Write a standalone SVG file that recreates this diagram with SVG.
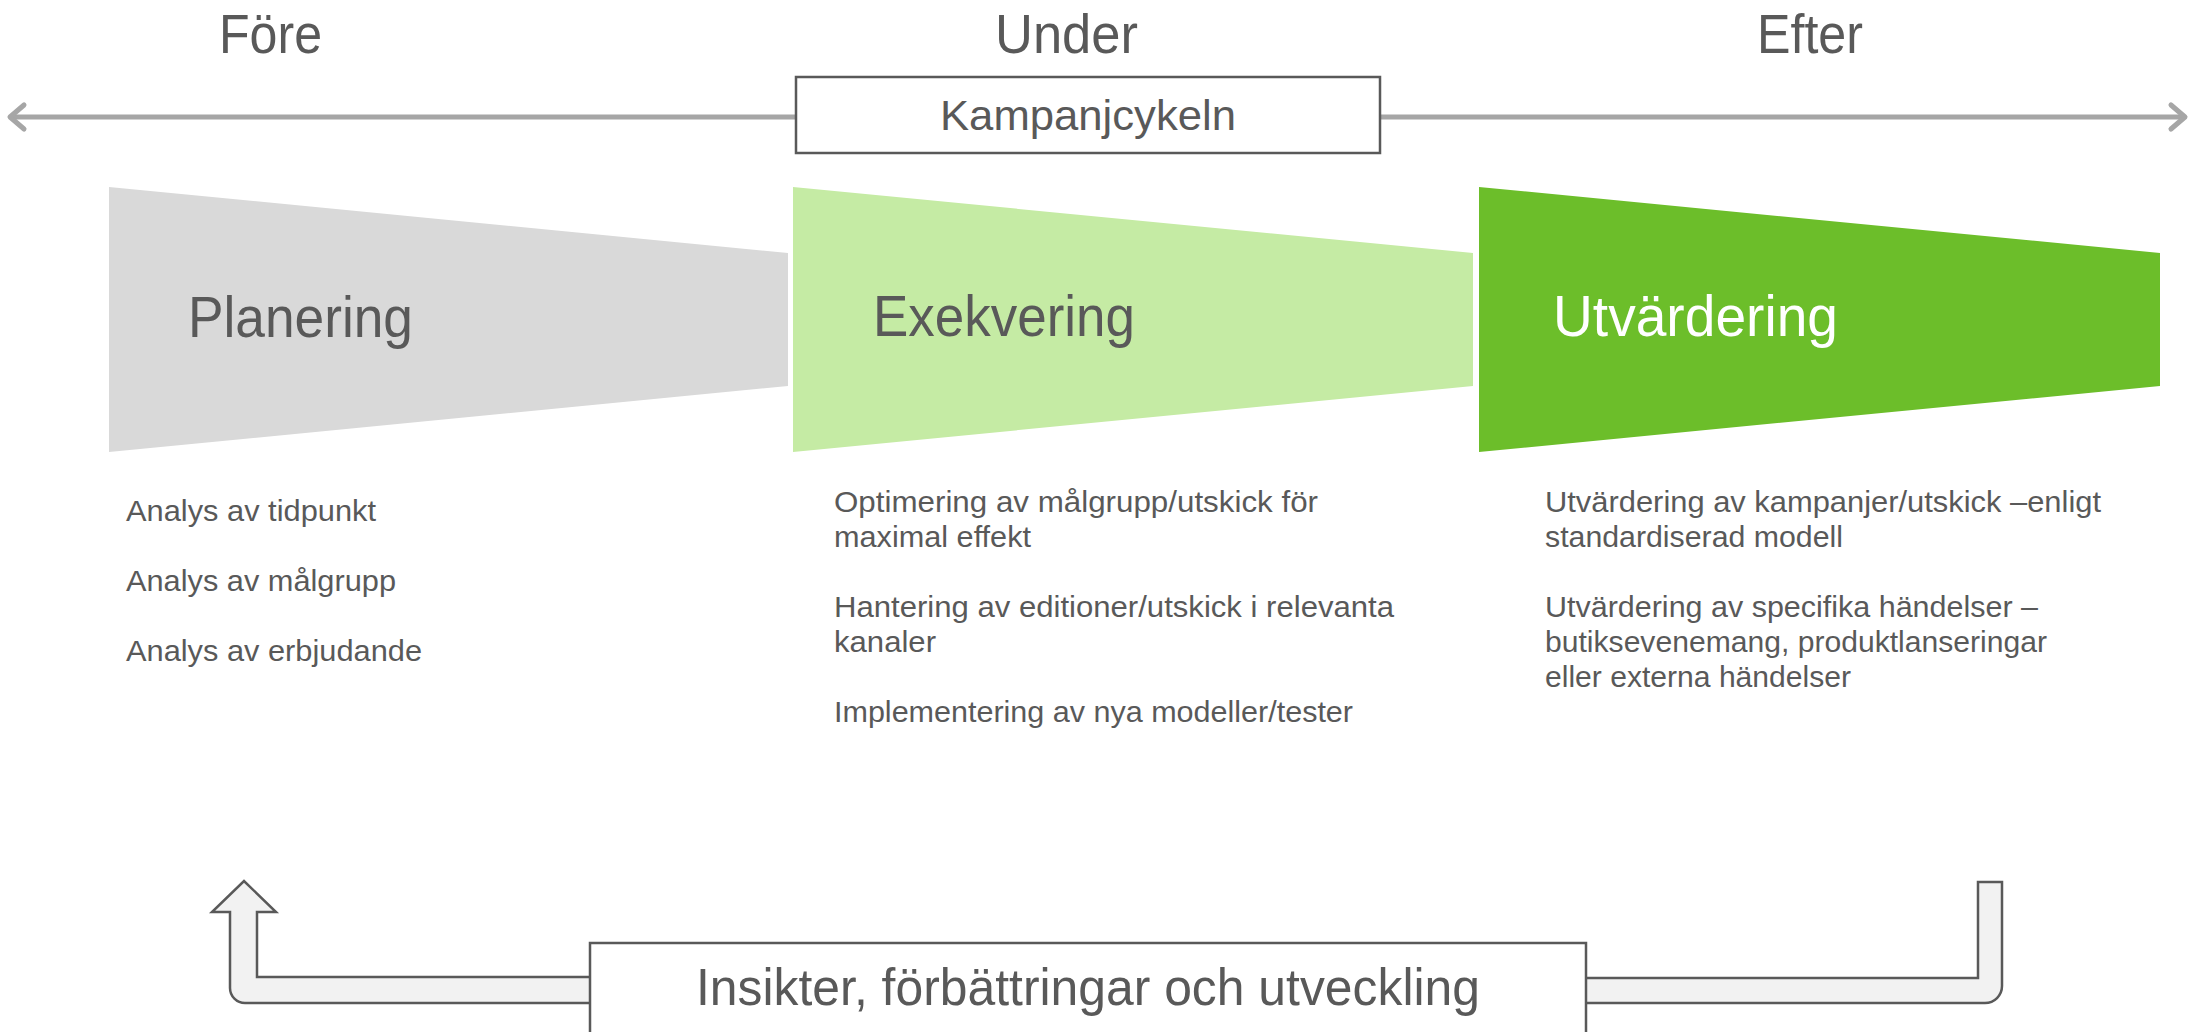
<svg xmlns="http://www.w3.org/2000/svg" width="2194" height="1032" viewBox="0 0 2194 1032">
<defs>
<style>
text{font-family:"Liberation Sans",Arial,sans-serif;fill:#595959;}
.hdr{font-size:56px;text-anchor:start;}
.ttl{font-size:57px;}
.bul{font-size:30px;}
.box{fill:#ffffff;stroke:#595959;stroke-width:2.5;}
.band{fill:#f2f2f2;stroke:#595959;stroke-width:2.5;stroke-linejoin:miter;}
.axis{stroke:#a6a6a6;stroke-width:5;fill:none;}
</style>
<marker id="chev" markerUnits="userSpaceOnUse" viewBox="-20 -16 24 32" refX="0" refY="0" markerWidth="24" markerHeight="32" orient="auto-start-reverse">
<path d="M-14,-12 L0,0 L-14,12" fill="none" stroke="#a6a6a6" stroke-width="5" stroke-linecap="round" stroke-linejoin="round"/>
</marker>
</defs>
<rect width="2194" height="1032" fill="#ffffff"/>

<g id="phase-labels">
<text class="hdr" x="219" y="53" textLength="103" lengthAdjust="spacingAndGlyphs">Före</text>
<text class="hdr" x="995" y="53" textLength="143" lengthAdjust="spacingAndGlyphs">Under</text>
<text class="hdr" x="1757" y="53" textLength="106" lengthAdjust="spacingAndGlyphs">Efter</text>
</g>

<g id="connectors">
<line class="axis" x1="796" y1="117" x2="10" y2="117" marker-end="url(#chev)"/>
<line class="axis" x1="1380" y1="117" x2="2185" y2="117" marker-end="url(#chev)"/>
<path class="band" d="M590,1003 L245,1003 A15,15 0 0 1 230,988 L230,912 L212,912 L244,881 L276,912 L257,912 L257,977 L590,977"/>
<path class="band" d="M1586,978 L1978,978 L1978,882 L2002,882 L2002,986 A17,17 0 0 1 1985,1003 L1586,1003"/>
</g>

<g id="kampanjcykeln">
<rect class="box" x="796" y="77" width="584" height="76"/>
<text x="940" y="130" font-size="42" textLength="296" lengthAdjust="spacingAndGlyphs">Kampanjcykeln</text>
</g>

<g id="planering">
<polygon points="109,187 788,253 788,386 109,452" fill="#d9d9d9"/>
<text class="ttl" x="188" y="337" textLength="225" lengthAdjust="spacingAndGlyphs">Planering</text>
</g>

<g id="exekvering">
<polygon points="793,187 1473,253 1473,386 793,452" fill="#c5eba4"/>
<text class="ttl" x="873" y="336" textLength="262" lengthAdjust="spacingAndGlyphs">Exekvering</text>
</g>

<g id="utvardering">
<polygon points="1479,187 2160,253 2160,386 1479,452" fill="#6cbe2a"/>
<text class="ttl" x="1553" y="336" textLength="285" lengthAdjust="spacingAndGlyphs" style="fill:#ffffff">Utvärdering</text>
</g>

<g id="planering-items">
<text class="bul" x="126" y="521" textLength="250" lengthAdjust="spacingAndGlyphs">Analys av tidpunkt</text>
<text class="bul" x="126" y="591" textLength="270" lengthAdjust="spacingAndGlyphs">Analys av målgrupp</text>
<text class="bul" x="126" y="661" textLength="296" lengthAdjust="spacingAndGlyphs">Analys av erbjudande</text>
</g>

<g id="exekvering-items">
<text class="bul" x="834" y="512" textLength="484" lengthAdjust="spacingAndGlyphs">Optimering av målgrupp/utskick för</text>
<text class="bul" x="834" y="547" textLength="197" lengthAdjust="spacingAndGlyphs">maximal effekt</text>
<text class="bul" x="834" y="617" textLength="560" lengthAdjust="spacingAndGlyphs">Hantering av editioner/utskick i relevanta</text>
<text class="bul" x="834" y="652" textLength="102" lengthAdjust="spacingAndGlyphs">kanaler</text>
<text class="bul" x="834" y="722" textLength="519" lengthAdjust="spacingAndGlyphs">Implementering av nya modeller/tester</text>
</g>

<g id="utvardering-items">
<text class="bul" x="1545" y="512" textLength="556" lengthAdjust="spacingAndGlyphs">Utvärdering av kampanjer/utskick –enligt</text>
<text class="bul" x="1545" y="547" textLength="298" lengthAdjust="spacingAndGlyphs">standardiserad modell</text>
<text class="bul" x="1545" y="617" textLength="493" lengthAdjust="spacingAndGlyphs">Utvärdering av specifika händelser –</text>
<text class="bul" x="1545" y="652" textLength="502" lengthAdjust="spacingAndGlyphs">butiksevenemang, produktlanseringar</text>
<text class="bul" x="1545" y="687" textLength="306" lengthAdjust="spacingAndGlyphs">eller externa händelser</text>
</g>

<g id="insikter">
<rect class="box" x="590" y="943" width="996" height="110"/>
<text x="696" y="1005" font-size="52" textLength="784" lengthAdjust="spacingAndGlyphs">Insikter, förbättringar och utveckling</text>
</g>
</svg>
